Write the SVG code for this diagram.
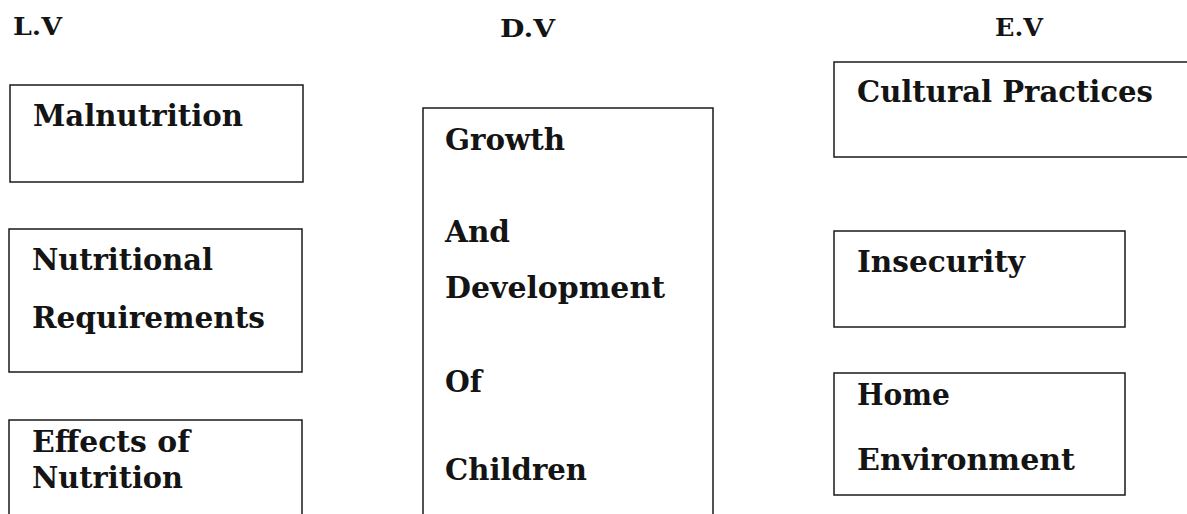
<svg xmlns="http://www.w3.org/2000/svg" width="1187" height="514" viewBox="0 0 1187 514">
<style>
.bg{fill:#ffffff}
.box{fill:none;stroke:#1a1a1a;stroke-width:1.5}
.t{font-family:"DejaVu Serif","Liberation Serif",serif;font-weight:bold;font-size:29px;fill:#141414}
.h{font-family:"DejaVu Serif","Liberation Serif",serif;font-weight:bold;font-size:25px;fill:#141414}
</style>
<rect class="bg" x="0" y="0" width="1187" height="514"/>
<g id="headers">
<text class="h" x="13" y="35" textLength="49" lengthAdjust="spacingAndGlyphs">L.V</text>
<text class="h" x="500" y="37" textLength="55" lengthAdjust="spacingAndGlyphs">D.V</text>
<text class="h" x="995" y="36" textLength="48" lengthAdjust="spacingAndGlyphs">E.V</text>
</g>
<g id="malnutrition">
<rect class="box" x="10" y="85" width="293" height="97"/>
<text class="t" x="33" y="126" textLength="210" lengthAdjust="spacingAndGlyphs">Malnutrition</text>
</g>
<g id="nutritional-requirements">
<rect class="box" x="9" y="229" width="293" height="143"/>
<text class="t" x="32" y="270" textLength="181" lengthAdjust="spacingAndGlyphs">Nutritional</text>
<text class="t" x="32" y="328" textLength="233" lengthAdjust="spacingAndGlyphs">Requirements</text>
</g>
<g id="effects-of-nutrition">
<path class="box" d="M9,514 V420 H302 V514"/>
<text class="t" x="32" y="452" textLength="158" lengthAdjust="spacingAndGlyphs">Effects of</text>
<text class="t" x="32" y="488" textLength="151" lengthAdjust="spacingAndGlyphs">Nutrition</text>
</g>
<g id="growth-development">
<path class="box" d="M423,514 V108 H713 V514"/>
<text class="t" x="445" y="150" textLength="120" lengthAdjust="spacingAndGlyphs">Growth</text>
<text class="t" x="445" y="242" textLength="65" lengthAdjust="spacingAndGlyphs">And</text>
<text class="t" x="445" y="298" textLength="220" lengthAdjust="spacingAndGlyphs">Development</text>
<text class="t" x="445" y="392" textLength="37" lengthAdjust="spacingAndGlyphs">Of</text>
<text class="t" x="445" y="480" textLength="142" lengthAdjust="spacingAndGlyphs">Children</text>
</g>
<g id="cultural-practices">
<path class="box" d="M1187,62 H834 V157 H1187"/>
<text class="t" x="857" y="102" textLength="296" lengthAdjust="spacingAndGlyphs">Cultural Practices</text>
</g>
<g id="insecurity">
<rect class="box" x="834" y="231" width="291" height="96"/>
<text class="t" x="857" y="272" textLength="168" lengthAdjust="spacingAndGlyphs">Insecurity</text>
</g>
<g id="home-environment">
<rect class="box" x="834" y="373" width="291" height="122"/>
<text class="t" x="857" y="405" textLength="93" lengthAdjust="spacingAndGlyphs">Home</text>
<text class="t" x="857" y="470" textLength="218" lengthAdjust="spacingAndGlyphs">Environment</text>
</g>
<g id="connectors"></g>
</svg>
